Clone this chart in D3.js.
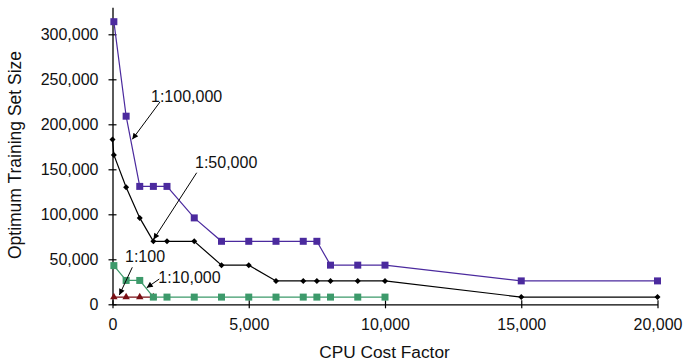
<!DOCTYPE html>
<html>
<head>
<meta charset="utf-8">
<script src="https://cdn.jsdelivr.net/npm/d3@7"></script>
<style>
  html, body { margin: 0; padding: 0; background: #fff; }
  svg { display: block; font-family: "Liberation Sans", Arial, Helvetica, sans-serif; }
</style>
</head>
<body>
<svg id="chart" width="684" height="363"></svg>
<script>
// CPU cost factor values (x) and optimum training set sizes (y) per cost ratio
const costs100k = [50, 500, 1000, 1500, 2000, 3000, 4000, 5000, 6000, 7000, 7500, 8000, 9000, 10000, 15000, 20000];
const sizes100k = [314000, 209000, 131000, 131000, 131000, 96000, 70000, 70000, 70000, 70000, 70000, 43500, 43500, 43500, 26000, 26000];

const costs50k = [0, 50, 500, 1000, 1500, 2000, 3000, 4000, 5000, 6000, 7000, 7500, 8000, 9000, 10000, 15000, 20000];
const sizes50k = [183000, 166000, 130000, 96000, 70000, 70000, 70000, 43500, 43500, 26000, 26000, 26000, 26000, 26000, 26000, 8000, 8000];

const costs10k = [50, 500, 1000, 1500, 2000, 3000, 4000, 5000, 6000, 7000, 7500, 8000, 9000, 10000];
const sizes10k = [43000, 26500, 26500, 8000, 8000, 8000, 8000, 8000, 8000, 8000, 8000, 8000, 8000, 8000];

const costs100 = [50, 500, 1000, 1500];
const sizes100 = [8000, 8000, 8000, 8000];

const xTicks = [0, 5000, 10000, 15000, 20000];
const yTicks = [0, 50000, 100000, 150000, 200000, 250000, 300000];

const seriesLabels = ["1:100,000", "1:50,000", "1:10,000", "1:100"];

const svg = d3.select("#chart");

const x = d3.scaleLinear().domain([0, 20000]).range([112.5, 657.5]);
const y = d3.scaleLinear().domain([0, 330000]).range([304.3, 7.3]);

const fmt = d3.format(",");

// axes with ticks crossing the axis line
const yAxis = d3.axisLeft(y).tickValues(yTicks).tickFormat(fmt).tickSizeInner(4).tickSizeOuter(0).tickPadding(10);
const xAxis = d3.axisBottom(x).tickValues(xTicks).tickFormat(fmt).tickSizeInner(4).tickSizeOuter(0).tickPadding(10);

const gy = svg.append("g").attr("transform", `translate(${x(0)},0)`).call(yAxis);
const gx = svg.append("g").attr("transform", `translate(0,${y(0)})`).call(xAxis);

[gy, gx].forEach(g => {
  g.select(".domain").attr("stroke", "#000").attr("stroke-width", 1.3);
  g.selectAll(".tick line").attr("stroke", "#000").attr("stroke-width", 1.2);
  g.selectAll(".tick text").attr("fill", "#111").attr("font-size", 16).attr("font-family", "Liberation Sans, Arial, sans-serif");
});
gy.selectAll(".tick line").attr("x1", 4).attr("x2", -4);
gx.selectAll(".tick line").attr("y1", -4).attr("y2", 4);

// axis titles
svg.append("text")
  .attr("x", (x(0) + x(20000)) / 2 - 0.5)
  .attr("y", 358)
  .attr("text-anchor", "middle")
  .attr("font-size", 17.3)
  .attr("fill", "#111")
  .text("CPU Cost Factor");

svg.append("text")
  .attr("transform", "translate(21,155) rotate(-90)")
  .attr("text-anchor", "middle")
  .attr("font-size", 17.5)
  .attr("fill", "#111")
  .text("Optimum Training Set Size");

// series lines and markers
const series = [
  { xs: costs100k, ys: sizes100k, color: "#4b2a9e", symbol: d3.symbolSquare, size: 49, rot: 0 },
  { xs: costs50k, ys: sizes50k, color: "#000000", symbol: d3.symbolSquare, size: 18, rot: 45 },
  { xs: costs100, ys: sizes100, color: "#7a0f14", symbol: d3.symbolTriangle, size: 24, rot: 0 },
  { xs: costs10k, ys: sizes10k, color: "#3d9a6b", symbol: d3.symbolSquare, size: 49, rot: 0 }
];

const line = d3.line().x(d => x(d[0])).y(d => y(d[1]));

series.forEach(s => {
  const pts = s.xs.map((c, i) => [c, s.ys[i]]);
  svg.append("path")
    .attr("d", line(pts))
    .attr("fill", "none")
    .attr("stroke", s.color)
    .attr("stroke-width", 1.2);
  svg.append("g").selectAll("path")
    .data(pts)
    .join("path")
    .attr("d", d3.symbol(s.symbol, s.size)())
    .attr("transform", d => `translate(${x(d[0])},${y(d[1])}) rotate(${s.rot})`)
    .attr("fill", s.color);
});

// labels with arrows pointing at each curve (positions in data units)
const notes = [
  { text: seriesLabels[0], tx: 1413, ty: 224800, from: [1743, 224800], to: [727, 183300] },
  { text: seriesLabels[1], tx: 3028, ty: 150900, from: [3090, 146200], to: [1505, 72000] },
  { text: seriesLabels[3], tx: 459, ty: 46700, from: [727, 41100], to: [250, 10300] },
  { text: seriesLabels[2], tx: 1681, ty: 23700, from: [1717, 28100], to: [1255, 18400] }
];

svg.append("defs").append("marker")
  .attr("id", "arrowhead")
  .attr("viewBox", "0 0 10 10")
  .attr("refX", 10).attr("refY", 5)
  .attr("markerWidth", 8).attr("markerHeight", 6)
  .attr("markerUnits", "userSpaceOnUse")
  .attr("orient", "auto")
  .append("path")
  .attr("d", "M0,0 L10,5 L0,10 Z")
  .attr("fill", "#000");

notes.forEach(n => {
  svg.append("line")
    .attr("x1", x(n.from[0])).attr("y1", y(n.from[1]))
    .attr("x2", x(n.to[0])).attr("y2", y(n.to[1]))
    .attr("stroke", "#000")
    .attr("stroke-width", 1)
    .attr("marker-end", "url(#arrowhead)");
  svg.append("text")
    .attr("x", x(n.tx)).attr("y", y(n.ty))
    .attr("font-size", 16)
    .attr("fill", "#111")
    .text(n.text);
});
</script>
</body>
</html>
